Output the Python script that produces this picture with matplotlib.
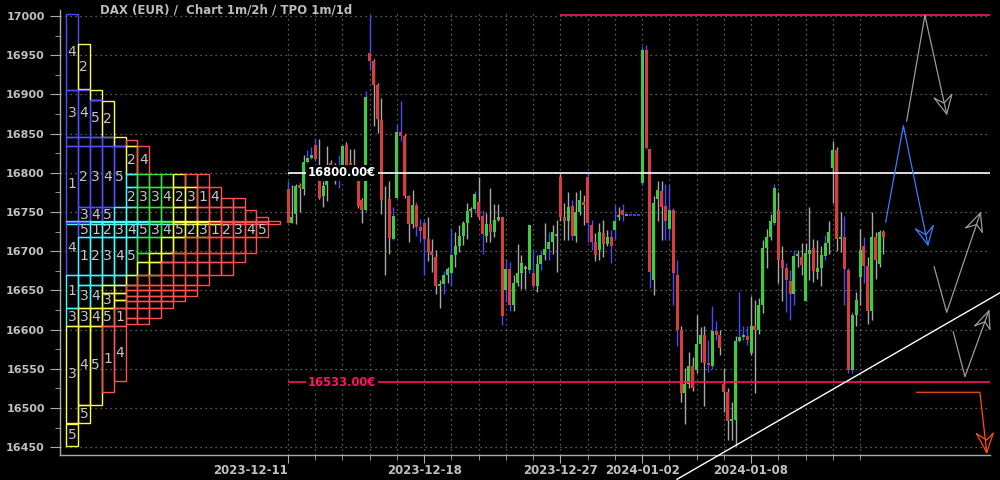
import matplotlib
matplotlib.use("Agg")
import matplotlib.pyplot as plt
from matplotlib.patches import Rectangle
from matplotlib.ticker import MultipleLocator

# === data ===
title = "DAX (EUR) /  Chart 1m/2h / TPO 1m/1d"
tick_days = list(range(22))                      # one tick per trading day
label_days = [0, 5, 10, 13, 17]
label_text = ["2023-12-11", "2023-12-18", "2023-12-27", "2024-01-02", "2024-01-08"]
candles_per_day = 7                              # 2h candles

# 2h OHLC candles
opens = [16779, 16736, 16747, 16784, 16779, 16814, 16819, 16835, 16810, 16770,
         16784, 16812, 16792, 16800, 16798, 16835, 16812, 16808, 16790, 16765,
         16752, 16953, 16942, 16912, 16867, 16767, 16767, 16716, 16768, 16852,
         16847, 16770, 16735, 16759, 16731, 16736, 16715, 16699, 16693, 16655,
         16658, 16670, 16672, 16695, 16706, 16720, 16736, 16751, 16754, 16763,
         16745, 16720, 16735, 16725, 16740, 16743, 16651, 16677, 16631, 16660,
         16672, 16679, 16676, 16672, 16655, 16684, 16695, 16703, 16712, 16721,
         16795, 16743, 16739, 16758, 16719, 16750, 16763, 16795, 16733, 16712,
         16701, 16723, 16709, 16718, 16727, 16743, 16753, 16746, 16746, 16746,
         16746, 16787, 16957, 16830, 16663, 16766, 16777, 16758, 16728, 16752,
         16670, 16600, 16519, 16531, 16554, 16548, 16582, 16593, 16558, 16554,
         16598, 16593, 16531, 16521, 16483, 16485, 16585, 16590, 16592, 16570,
         16605, 16599, 16631, 16704, 16718, 16736, 16752, 16689, 16679, 16662,
         16646, 16694, 16693, 16637, 16697, 16704, 16674, 16679, 16694, 16711,
         16806, 16829, 16715, 16718, 16676, 16548, 16619, 16667, 16707, 16681,
         16624, 16718, 16684, 16725]
highs = [16789, 16784, 16786, 16787, 16823, 16829, 16833, 16845, 16843, 16790,
         16834, 16816, 16812, 16823, 16836, 16839, 16831, 16830, 16800, 16768,
         16905, 17000, 16945, 16915, 16895, 16783, 16790, 16757, 16861, 16891,
         16850, 16772, 16778, 16763, 16741, 16740, 16743, 16716, 16701, 16663,
         16675, 16680, 16729, 16725, 16734, 16739, 16761, 16757, 16777, 16795,
         16753, 16749, 16780, 16760, 16760, 16745, 16690, 16686, 16670, 16709,
         16695, 16682, 16735, 16701, 16695, 16701, 16736, 16725, 16733, 16740,
         16799, 16761, 16776, 16765, 16776, 16778, 16772, 16800, 16740, 16723,
         16736, 16740, 16727, 16727, 16759, 16757, 16760, 16746, 16746, 16746,
         16746, 16962, 16963, 16832, 16770, 16790, 16790, 16786, 16784, 16755,
         16689, 16605, 16551, 16571, 16565, 16619, 16603, 16604, 16587, 16630,
         16611, 16600, 16551, 16525, 16507, 16592, 16648, 16604, 16605, 16643,
         16638, 16640, 16714, 16728, 16748, 16786, 16776, 16706, 16685, 16676,
         16701, 16702, 16710, 16710, 16757, 16715, 16714, 16706, 16721, 16739,
         16840, 16833, 16750, 16745, 16678, 16623, 16648, 16728, 16718, 16693,
         16750, 16724, 16727, 16727]
lows = [16736, 16736, 16735, 16750, 16772, 16812, 16817, 16815, 16766, 16756,
        16764, 16800, 16786, 16781, 16796, 16797, 16805, 16798, 16755, 16736,
        16750, 16932, 16860, 16851, 16748, 16670, 16697, 16714, 16766, 16840,
        16768, 16712, 16730, 16720, 16712, 16670, 16687, 16674, 16646, 16627,
        16646, 16660, 16655, 16680, 16699, 16708, 16716, 16743, 16749, 16741,
        16697, 16712, 16712, 16718, 16738, 16606, 16635, 16624, 16624, 16655,
        16652, 16652, 16672, 16653, 16648, 16676, 16689, 16689, 16697, 16674,
        16738, 16714, 16714, 16714, 16712, 16746, 16733, 16712, 16701, 16687,
        16689, 16693, 16706, 16685, 16714, 16740, 16738, 16746, 16746, 16746,
        16746, 16785, 16830, 16653, 16644, 16738, 16714, 16714, 16714, 16631,
        16579, 16508, 16480, 16525, 16522, 16544, 16559, 16503, 16546, 16550,
        16587, 16568, 16495, 16459, 16459, 16451, 16584, 16587, 16580, 16568,
        16519, 16595, 16621, 16679, 16714, 16733, 16659, 16637, 16623, 16612,
        16631, 16680, 16670, 16637, 16663, 16661, 16665, 16656, 16689, 16697,
        16762, 16700, 16699, 16631, 16545, 16544, 16604, 16631, 16659, 16607,
        16612, 16664, 16680, 16697]
closes = [16736, 16743, 16783, 16780, 16814, 16819, 16823, 16817, 16768, 16783,
          16790, 16806, 16795, 16805, 16834, 16800, 16808, 16803, 16758, 16752,
          16897, 16942, 16912, 16869, 16765, 16766, 16717, 16745, 16852, 16847,
          16770, 16735, 16759, 16731, 16726, 16716, 16699, 16695, 16655, 16658,
          16670, 16677, 16695, 16706, 16720, 16736, 16751, 16754, 16773, 16743,
          16722, 16735, 16725, 16740, 16743, 16617, 16677, 16631, 16660, 16672,
          16685, 16679, 16733, 16655, 16684, 16695, 16703, 16712, 16725, 16721,
          16744, 16739, 16757, 16719, 16750, 16765, 16759, 16736, 16712, 16695,
          16725, 16709, 16718, 16706, 16738, 16746, 16746, 16746, 16746, 16746,
          16746, 16957, 16832, 16673, 16762, 16778, 16756, 16739, 16752, 16672,
          16600, 16519, 16531, 16554, 16525, 16582, 16593, 16558, 16555, 16598,
          16593, 16576, 16521, 16483, 16486, 16585, 16591, 16593, 16587, 16605,
          16599, 16631, 16704, 16718, 16739, 16780, 16689, 16679, 16663, 16646,
          16694, 16697, 16682, 16698, 16701, 16675, 16678, 16695, 16711, 16724,
          16829, 16716, 16718, 16677, 16549, 16619, 16638, 16702, 16681, 16624,
          16718, 16689, 16725, 16718]
# wick colour per candle: b = blue, g = grey
wicks = ("bgggg" "bbbgg" "gggbb" "ggggg" "bbggg" "ggbbb" "gggbb" "bgggg"
         "bgbgg" "gggbg" "bgggg" "bbbgg" "ggbbg" "bgbgg" "gggbg" "ggbbg"
         "gggbb" "gbgbb" "bbbbg" "ggbbb" "bgggg" "gggbb" "bgggg" "gbbbg"
         "ggggg" "bggbb" "bgggg" "gggbg" "gggbb" "bggbg" "gggg")

level_white = 16800
level_pink = 16533
level_top = 17001
level_top_from = 10
trend_days = [14.28, 26.14]
trend_prices = [16409, 16647]

# hand-drawn arrows: shaft points, then head (barb, tip, barb, notch)
arrow_grey1 = ([(22.71, 16866), (23.38, 17001), (24.18, 16875)],
               [(23.73, 16895), (24.18, 16875), (24.37, 16900), (24.08, 16889)])
arrow_blue = ([(21.94, 16737), (22.59, 16860), (23.49, 16708)],
              [(23.05, 16728), (23.49, 16708), (23.69, 16733), (23.42, 16721)])
arrow_grey2 = ([(23.72, 16680), (24.18, 16622), (25.42, 16749)],
               [(24.89, 16730), (25.42, 16749), (25.49, 16724), (25.28, 16734)])
arrow_grey3 = ([(24.42, 16597), (24.85, 16540), (25.73, 16624)],
               [(25.22, 16605), (25.73, 16624), (25.77, 16600), (25.59, 16610)])
arrow_red = ([(23.08, 16520), (25.40, 16520), (25.65, 16443)],
             [(25.28, 16467), (25.65, 16443), (25.89, 16468), (25.65, 16459)])

# TPO profile boxes: (top, bottom, first column, colours, labels)
tpo_rows = [
    (17003, 16906, 0, "b", "4"),
    (16964, 16907, 1, "y", "2"),
    (16906, 16846, 0, "bb", "34"),
    (16906, 16893, 2, "y", " "),
    (16893, 16846, 2, "b", "5"),
    (16892, 16846, 3, "y", "2"),
    (16846, 16834, 0, "bbbby", "     "),
    (16842, 16834, 5, "r", " "),
    (16834, 16737, 0, "b", "1"),
    (16834, 16756, 1, "bbbb", "2345"),
    (16834, 16798, 5, "yr", "24"),
    (16798, 16782, 5, "cgggyrr", "       "),
    (16782, 16756, 5, "cgggyyrr", "23342314"),
    (16768, 16756, 13, "rr", "  "),
    (16756, 16737, 1, "bbbccgggyyrrrr", "345           "),
    (16752, 16737, 15, "r", " "),
    (16743, 16737, 16, "r", " "),
    (16738, 16735, 0, "ccccccccc", "         "),
    (16738, 16735, 9, "yyyy", "    "),
    (16738, 16735, 13, "rrrrr", "     "),
    (16737, 16670, 0, "b", "4"),
    (16737, 16718, 1, "bcccccggyyyrrrrr", "5123453452312345"),
    (16718, 16670, 1, "ccccc", "12345"),
    (16718, 16698, 6, "ggyyrrrrrr", "          "),
    (16698, 16686, 6, "gyyrrrrrr", "         "),
    (16686, 16670, 6, "yyrrrrrr", "        "),
    (16670, 16628, 0, "c", "1"),
    (16670, 16657, 1, "ccccyrrrrrr", "           "),
    (16657, 16628, 1, "cc", "34"),
    (16657, 16647, 3, "yy", "  "),
    (16647, 16628, 3, "y", "3"),
    (16647, 16638, 4, "y", " "),
    (16638, 16628, 4, "y", " "),
    (16657, 16650, 5, "rrrrrr", "      "),
    (16650, 16643, 5, "rrrrrr", "      "),
    (16643, 16636, 5, "rrrrr", "     "),
    (16636, 16628, 5, "rrrr", "    "),
    (16628, 16605, 0, "cyyyr", "33451"),
    (16628, 16615, 5, "rrr", "   "),
    (16615, 16607, 5, "rr", "  "),
    (16605, 16481, 0, "y", "3"),
    (16480, 16452, 0, "y", "5"),
    (16605, 16504, 1, "y", "4"),
    (16504, 16481, 1, "y", "5"),
    (16605, 16504, 2, "y", "5"),
    (16605, 16520, 3, "r", "1"),
    (16605, 16534, 4, "r", "4"),
]

tpo_colors = {"b": "#5050ff", "y": "#ffff40", "c": "#40ffff",
              "g": "#40dd40", "r": "#ff5050"}
TPO_X0 = -8.15      # left edge of first TPO column (days)
TPO_W = 0.437       # column width (days)

# === figure ===
fig = plt.figure(figsize=(10, 4.8), dpi=100, facecolor="black")
ax = fig.add_axes([0.06, 25 / 480, 0.93, 445 / 480])
ax.set_facecolor("black")
ax.set_xlim(-8.37, 25.77)
ax.set_ylim(16440, 17007.7)

# grid + axes styling
ax.set_axisbelow(True)
ax.set_xticks(label_days, label_text)
ax.set_xticks(tick_days, minor=True)
ax.yaxis.set_major_locator(MultipleLocator(50))
ax.yaxis.set_minor_locator(MultipleLocator(25))
grid_kw = dict(color="#7a7a7a", linestyle=(0, (1, 3)), linewidth=0.9)
ax.grid(True, which="both", axis="x", **grid_kw)
ax.grid(True, which="major", axis="y", **grid_kw)
for side in ["top", "right"]:
    ax.spines[side].set_visible(False)
for side in ["left", "bottom"]:
    ax.spines[side].set_color("#aaaaaa")
    ax.spines[side].set_linewidth(1.0)
ax.tick_params(axis="y", which="major", length=7, color="#aaaaaa", labelcolor="#c0c0c0",
               labelsize=8, pad=4)
ax.tick_params(axis="y", which="minor", length=3.5, color="#aaaaaa")
ax.tick_params(axis="x", which="major", length=6, color="#aaaaaa", labelcolor="#c0c0c0",
               labelsize=8.5, pad=0.5)
ax.tick_params(axis="x", which="minor", length=3.5, color="#aaaaaa")
for lab in ax.get_xticklabels() + ax.get_yticklabels():
    lab.set_fontweight("bold")
ax.get_xticklabels()[0].set_ha("right")

# TPO profile
for top, bot, c0, cols, labs in tpo_rows:
    for i, ch in enumerate(cols):
        x = TPO_X0 + (c0 + i) * TPO_W
        ax.add_patch(Rectangle((x, bot), TPO_W, top - bot, fill=False,
                               edgecolor=tpo_colors[ch], linewidth=1.0, zorder=3))
        if labs[i] != " ":
            ax.text(x + TPO_W / 2, (top + bot) / 2, labs[i], color="#c4c4c4",
                    fontsize=10, ha="center", va="center", zorder=4)

# candlesticks
step = 1 / candles_per_day
body_w = 0.11
for k in range(len(opens)):
    x = k * step
    o, h, l, c = opens[k], highs[k], lows[k], closes[k]
    wc = "#4a4aff" if wicks[k] == "b" else "#a8a8a8"
    ax.vlines(x, l, h, color=wc, linewidth=1.0, zorder=5)
    if abs(c - o) < 1:
        ax.hlines(o, x - body_w / 2, x + body_w / 2, color=wc, linewidth=1.2, zorder=6)
    else:
        ax.bar(x, abs(c - o), bottom=min(o, c), width=body_w,
               color="#3ccc3c" if c > o else "#d83c3c", linewidth=0, zorder=6)

# price levels
ax.hlines(level_white, 0, 25.77, color="white", linewidth=1.2, zorder=7)
ax.hlines(level_pink, 0, 25.77, color="#ff1464", linewidth=1.2, zorder=7)
ax.hlines(level_top, level_top_from, 25.77, color="#ff1464", linewidth=1.2, zorder=7)
ax.text(0.73, level_white, f"{level_white:.2f}€", color="white", fontsize=8.3,
        fontweight="bold", ha="left", va="center", zorder=8,
        bbox=dict(facecolor="black", edgecolor="none", pad=1.2))
ax.text(0.73, level_pink, f"{level_pink:.2f}€", color="#ff1464", fontsize=8.3,
        fontweight="bold", ha="left", va="center", zorder=8,
        bbox=dict(facecolor="black", edgecolor="none", pad=1.2))

# trend line
ax.plot(trend_days, trend_prices, color="white", linewidth=1.0, zorder=8, clip_on=False)

# drawn arrows
for (shaft, head), col in [(arrow_grey1, "#9a9a9a"), (arrow_blue, "#3a7aff"),
                           (arrow_grey2, "#9a9a9a"), (arrow_grey3, "#9a9a9a"),
                           (arrow_red, "#ff4a14")]:
    xs, ys = zip(*shaft)
    ax.plot(xs, ys, color=col, linewidth=0.9, zorder=8, clip_on=False)
    hx, hy = zip(*(head + [head[0]]))
    ax.plot(hx, hy, color=col, linewidth=0.9, zorder=8, clip_on=False)

fig.text(0.1, 1 - 10 / 480, title, color="#bbbbbb", fontsize=8.5, fontweight="bold",
         ha="left", va="center")

fig.savefig("out.png", dpi=100, facecolor="black")
